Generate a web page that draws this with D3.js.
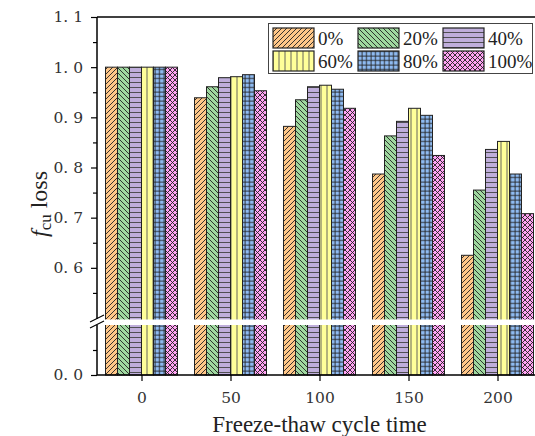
<!DOCTYPE html>
<html>
<head>
<meta charset="utf-8">
<script src="https://cdn.jsdelivr.net/npm/d3@7"></script>
<style>
  body { margin: 0; background: #fff; }
  svg { display: block; font-family: "Liberation Serif", "DejaVu Serif", serif; }
</style>
</head>
<body>
<svg id="chart" width="535" height="436"></svg>
<script>
// Data
var cycles = [0, 50, 100, 150, 200];
var seriesNames = ["0%", "20%", "40%", "60%", "80%", "100%"];
var s0 = [1.0, 0.939, 0.882, 0.787, 0.625];
var s20 = [1.0, 0.961, 0.935, 0.863, 0.755];
var s40 = [1.0, 0.979, 0.961, 0.892, 0.836];
var s60 = [1.0, 0.981, 0.964, 0.918, 0.852];
var s80 = [1.0, 0.985, 0.956, 0.904, 0.787];
var s100 = [1.0, 0.953, 0.918, 0.824, 0.708];
var seriesValues = [s0, s20, s40, s60, s80, s100];
var upperTicks = [0.6, 0.7, 0.8, 0.9, 1.0, 1.1];
var lowerTicks = [0.0];

var colors = ["#ffc788", "#9fd89f", "#bfaedb", "#ffff99", "#8fbbf2", "#ffa3f3"];

(function() {
var svg = d3.select("#chart");
var mLeft = 97, mTop = 17, mBottom = 375, mRight = 542;

var x = d3.scaleLinear().domain([-25, 225]).range([mLeft, mRight]);
var yTop = d3.scaleLinear().domain([0.5, 1.1]).range([318, mTop]);
var yBot = d3.scaleLinear().domain([0, 0.1]).range([mBottom, 325]);
var bw = 12;

// patterns
var defs = svg.append("defs");
function pat(id, size, color, draw) {
  var p = defs.append("pattern").attr("id", id).attr("patternUnits", "userSpaceOnUse")
    .attr("width", size).attr("height", size);
  p.append("rect").attr("width", size).attr("height", size).attr("fill", color);
  draw(p, size);
}
function ln(p, x1, y1, x2, y2, c) {
  p.append("line").attr("x1", x1).attr("y1", y1).attr("x2", x2).attr("y2", y2)
    .attr("stroke", c || "#222").attr("stroke-width", 0.9);
}
pat("p0", 5, colors[0], function(p, s) { ln(p, 0, s, s, 0); ln(p, -1, 1, 1, -1); ln(p, s - 1, s + 1, s + 1, s - 1); });
pat("p1", 5, colors[1], function(p, s) { ln(p, 0, 0, s, s); ln(p, -1, s - 1, 1, s + 1); ln(p, s - 1, -1, s + 1, 1); });
pat("p2", 5, colors[2], function(p, s) { ln(p, 0, 2.5, s, 2.5, "#444"); });
pat("p3", 6, colors[3], function(p, s) { ln(p, 3, 0, 3, s, "#555"); });
pat("p4", 4.5, colors[4], function(p, s) { ln(p, 0, 2, s, 2); ln(p, 2, 0, 2, s); });
pat("p5", 5, colors[5], function(p, s) { ln(p, 0, 0, s, s); ln(p, 0, s, s, 0); });

// bars
var g = svg.append("g");
cycles.forEach(function(c, i) {
  seriesValues.forEach(function(vals, j) {
    var x0 = x(c) - 3 * bw + j * bw;
    var yv = yTop(vals[i]);
    g.append("rect").attr("x", x0).attr("y", yv).attr("width", bw).attr("height", mBottom - yv)
      .attr("fill", "url(#p" + j + ")").attr("stroke", "#222").attr("stroke-width", 1);
  });
});

// axis break gap
svg.append("rect").attr("x", mLeft + 1).attr("y", 319.5).attr("width", 535).attr("height", 5.5).attr("fill", "#fff");

// axes
var fmt = function(d) { return d.toFixed(1).replace(".", ". "); };
var axTop = d3.axisLeft(yTop).tickValues(upperTicks).tickSize(6).tickPadding(8).tickFormat(fmt);
var axTopMinor = d3.axisLeft(yTop).tickValues([0.55, 0.65, 0.75, 0.85, 0.95, 1.05]).tickSize(4).tickFormat("");
var axBot = d3.axisLeft(yBot).tickValues(lowerTicks).tickSize(6).tickPadding(8).tickFormat(fmt);
var axBotMinor = d3.axisLeft(yBot).tickValues([0.05]).tickSize(4).tickFormat("");
var axX = d3.axisBottom(x).tickValues(cycles).tickSize(6).tickPadding(11);

function style(sel) {
  sel.attr("font-size", 15.5).attr("font-family", "DejaVu Serif");
  sel.selectAll("path").attr("stroke", "#000").attr("stroke-width", 1.5);
  sel.selectAll("line").attr("stroke", "#000").attr("stroke-width", 1.2);
  sel.selectAll("text").attr("fill", "#333");
}
var gT = svg.append("g").attr("transform", "translate(" + mLeft + ",0)").call(axTop);
gT.select("path").attr("d", "M0," + mTop + "V319");
style(gT);
var gTm = svg.append("g").attr("transform", "translate(" + mLeft + ",0)").call(axTopMinor);
gTm.select("path").remove();
style(gTm);
var gB = svg.append("g").attr("transform", "translate(" + mLeft + ",0)").call(axBot);
gB.select("path").attr("d", "M0,325V" + mBottom);
style(gB);
var gBm = svg.append("g").attr("transform", "translate(" + mLeft + ",0)").call(axBotMinor);
gBm.select("path").remove();
style(gBm);
var gX = svg.append("g").attr("transform", "translate(0," + mBottom + ")").call(axX);
gX.select("path").attr("d", "M" + mLeft + ",0H" + mRight);
style(gX);

// top frame line
svg.append("line").attr("x1", mLeft).attr("x2", mRight).attr("y1", mTop).attr("y2", mTop)
  .attr("stroke", "#000").attr("stroke-width", 1.5);

// break marks
[318, 324].forEach(function(yy) {
  svg.append("line").attr("x1", 90).attr("y1", yy + 4).attr("x2", 104).attr("y2", yy - 3)
    .attr("stroke", "#000").attr("stroke-width", 1.2);
});

// legend
var lg = svg.append("g");
lg.append("rect").attr("x", 268.5).attr("y", 23.5).attr("width", 264).attr("height", 50)
  .attr("fill", "#fff").attr("stroke", "#444").attr("stroke-width", 1);
seriesNames.forEach(function(name, j) {
  var col = j % 3, row = Math.floor(j / 3);
  var lx = 273 + col * 85, ly = 28 + row * 23;
  lg.append("rect").attr("x", lx).attr("y", ly).attr("width", 41).attr("height", 20)
    .attr("fill", "url(#p" + j + ")").attr("stroke", "#222").attr("stroke-width", 1.2);
  lg.append("text").attr("x", lx + 45).attr("y", ly + 17).attr("font-size", 19)
    .attr("fill", "#222").text(name);
});

// axis titles
svg.append("text").attr("x", (mLeft + mRight) / 2).attr("y", 432).attr("text-anchor", "middle")
  .attr("font-size", 23).attr("fill", "#222").text("Freeze-thaw cycle time");
var yt = svg.append("text").attr("transform", "translate(47,204) rotate(-90)")
  .attr("text-anchor", "middle").attr("font-size", 24).attr("fill", "#222");
yt.append("tspan").attr("font-style", "italic").text("f");
yt.append("tspan").attr("font-size", 17).attr("dy", 4).text("cu");
yt.append("tspan").attr("dy", -4).text(" loss");
})();
</script>
</body>
</html>
